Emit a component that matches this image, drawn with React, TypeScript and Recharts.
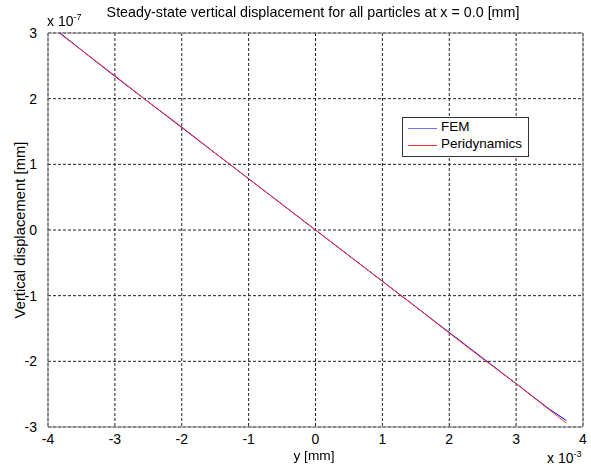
import { LineChart, Line, XAxis, YAxis, CartesianGrid, ReferenceLine } from "recharts";

// x positions along the particle column, in 1e-3 mm
const yPos = [-3.82, -3.5, -3, -2.5, -2, -1.5, -1, -0.5, 0, 0.5, 1, 1.5, 2, 2.5, 3, 3.5, 3.75];
// vertical displacement, in 1e-7 mm
const femDisp = [3.0, 2.74, 2.34, 1.95, 1.56, 1.17, 0.78, 0.39, 0, -0.39, -0.78, -1.17, -1.56, -1.95, -2.34, -2.73, -2.9];
const periDisp = [2.99, 2.74, 2.35, 1.95, 1.57, 1.17, 0.78, 0.39, 0, -0.39, -0.78, -1.17, -1.57, -1.96, -2.34, -2.74, -2.94];

const xTicks = [-4, -3, -2, -1, 0, 1, 2, 3, 4];
const yTicks = [-3, -2, -1, 0, 1, 2, 3];

const data = yPos.map((x, i) => ({ x, fem: femDisp[i], peri: periDisp[i] }));

const font = "'Liberation Sans', Arial, sans-serif";
const axisGray = "#808080";

const App = () => {
  return (
    <div style={{ position: "fixed", left: 0, top: 0, width: 591, height: 466, background: "#fff", fontFamily: font }}>
      <LineChart width={591} height={466} data={data} margin={{ top: 33, right: 8, left: 8, bottom: 9 }}>
        <CartesianGrid stroke="#222" strokeDasharray="3 2" />
        <XAxis
          dataKey="x"
          type="number"
          domain={[-4, 4]}
          ticks={xTicks}
          height={30}
          stroke={axisGray}
          tickLine={false}
          tickMargin={1}
          tick={{ fill: "#000", fontSize: 14, fontFamily: font }}
        />
        <YAxis
          type="number"
          domain={[-3, 3]}
          ticks={yTicks}
          width={40}
          stroke={axisGray}
          tickLine={false}
          tickMargin={5}
          tick={{ fill: "#000", fontSize: 14, fontFamily: font }}
        />
        <ReferenceLine y={3} stroke={axisGray} />
        <ReferenceLine x={4} stroke={axisGray} />
        <Line type="linear" dataKey="fem" stroke="#0000ff" strokeWidth={1} dot={false} isAnimationActive={false} />
        <Line type="linear" dataKey="peri" stroke="#ff3030" strokeWidth={1} dot={false} isAnimationActive={false} />
      </LineChart>

      <div style={{ position: "absolute", left: 0, width: 626, top: 4, textAlign: "center", fontSize: 14.3 }}>
        Steady-state vertical displacement for all particles at x = 0.0 [mm]
      </div>
      <div style={{ position: "absolute", left: 47, top: 12, fontSize: 14 }}>
        x 10<sup style={{ fontSize: 9 }}>-7</sup>
      </div>
      <div style={{ position: "absolute", left: 547, top: 449, fontSize: 14 }}>
        x 10<sup style={{ fontSize: 9 }}>-3</sup>
      </div>
      <div style={{ position: "absolute", left: 0, width: 628, top: 448, textAlign: "center", fontSize: 13.7 }}>
        y [mm]
      </div>
      <div
        style={{
          position: "absolute",
          left: 20,
          top: 230,
          fontSize: 14.8,
          whiteSpace: "nowrap",
          transform: "translate(-50%, -50%) rotate(-90deg)",
        }}
      >
        Vertical displacement [mm]
      </div>

      <div
        style={{
          position: "absolute",
          left: 402,
          top: 117,
          width: 125,
          height: 38,
          border: "1px solid #333",
          background: "#fff",
          fontSize: 13.5,
        }}
      >
        <div style={{ position: "absolute", left: 5, top: 10, width: 29, height: 1, background: "#7070ff" }} />
        <div style={{ position: "absolute", left: 38, top: 1 }}>FEM</div>
        <div style={{ position: "absolute", left: 5, top: 27, width: 29, height: 1, background: "#ff3030" }} />
        <div style={{ position: "absolute", left: 38, top: 18 }}>Peridynamics</div>
      </div>
    </div>
  );
};

export default App;
